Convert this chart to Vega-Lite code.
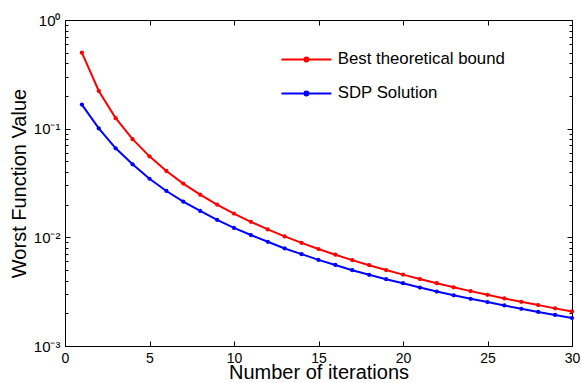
{
  "$schema": "https://vega.github.io/schema/vega-lite/v6.json",
  "width": 507,
  "height": 326,
  "autosize": {"type": "none"},
  "padding": {"left": 65, "top": 20, "right": 9, "bottom": 37},
  "background": "white",
  "config": {
    "font": "Liberation Sans",
    "view": {"stroke": "black", "strokeWidth": 1},
    "axis": {"domainColor": "black", "tickColor": "black", "labelColor": "black", "titleColor": "black", "grid": false, "labelFont": "Liberation Sans", "titleFont": "Liberation Sans", "titleFontWeight": "normal", "labelFontSize": 14, "titleFontSize": 20}
  },
  "data": {"values": [
    {"n": 1, "value": 0.5, "series": "Best theoretical bound"},
    {"n": 2, "value": 0.2222, "series": "Best theoretical bound"},
    {"n": 3, "value": 0.125, "series": "Best theoretical bound"},
    {"n": 4, "value": 0.08, "series": "Best theoretical bound"},
    {"n": 5, "value": 0.0556, "series": "Best theoretical bound"},
    {"n": 6, "value": 0.0408, "series": "Best theoretical bound"},
    {"n": 7, "value": 0.03125, "series": "Best theoretical bound"},
    {"n": 8, "value": 0.0247, "series": "Best theoretical bound"},
    {"n": 9, "value": 0.02, "series": "Best theoretical bound"},
    {"n": 10, "value": 0.01653, "series": "Best theoretical bound"},
    {"n": 11, "value": 0.01389, "series": "Best theoretical bound"},
    {"n": 12, "value": 0.01183, "series": "Best theoretical bound"},
    {"n": 13, "value": 0.0102, "series": "Best theoretical bound"},
    {"n": 14, "value": 0.00889, "series": "Best theoretical bound"},
    {"n": 15, "value": 0.00781, "series": "Best theoretical bound"},
    {"n": 16, "value": 0.00692, "series": "Best theoretical bound"},
    {"n": 17, "value": 0.00617, "series": "Best theoretical bound"},
    {"n": 18, "value": 0.00554, "series": "Best theoretical bound"},
    {"n": 19, "value": 0.005, "series": "Best theoretical bound"},
    {"n": 20, "value": 0.00454, "series": "Best theoretical bound"},
    {"n": 21, "value": 0.00413, "series": "Best theoretical bound"},
    {"n": 22, "value": 0.00378, "series": "Best theoretical bound"},
    {"n": 23, "value": 0.00347, "series": "Best theoretical bound"},
    {"n": 24, "value": 0.0032, "series": "Best theoretical bound"},
    {"n": 25, "value": 0.00296, "series": "Best theoretical bound"},
    {"n": 26, "value": 0.00274, "series": "Best theoretical bound"},
    {"n": 27, "value": 0.00255, "series": "Best theoretical bound"},
    {"n": 28, "value": 0.00238, "series": "Best theoretical bound"},
    {"n": 29, "value": 0.00222, "series": "Best theoretical bound"},
    {"n": 30, "value": 0.00208, "series": "Best theoretical bound"},
    {"n": 1, "value": 0.1667, "series": "SDP Solution"},
    {"n": 2, "value": 0.1005, "series": "SDP Solution"},
    {"n": 3, "value": 0.066, "series": "SDP Solution"},
    {"n": 4, "value": 0.047, "series": "SDP Solution"},
    {"n": 5, "value": 0.0346, "series": "SDP Solution"},
    {"n": 6, "value": 0.0267, "series": "SDP Solution"},
    {"n": 7, "value": 0.0213, "series": "SDP Solution"},
    {"n": 8, "value": 0.0175, "series": "SDP Solution"},
    {"n": 9, "value": 0.0145, "series": "SDP Solution"},
    {"n": 10, "value": 0.0122, "series": "SDP Solution"},
    {"n": 11, "value": 0.0105, "series": "SDP Solution"},
    {"n": 12, "value": 0.0091, "series": "SDP Solution"},
    {"n": 13, "value": 0.0079, "series": "SDP Solution"},
    {"n": 14, "value": 0.007, "series": "SDP Solution"},
    {"n": 15, "value": 0.0062, "series": "SDP Solution"},
    {"n": 16, "value": 0.00557, "series": "SDP Solution"},
    {"n": 17, "value": 0.00498, "series": "SDP Solution"},
    {"n": 18, "value": 0.00452, "series": "SDP Solution"},
    {"n": 19, "value": 0.00412, "series": "SDP Solution"},
    {"n": 20, "value": 0.00378, "series": "SDP Solution"},
    {"n": 21, "value": 0.00345, "series": "SDP Solution"},
    {"n": 22, "value": 0.00317, "series": "SDP Solution"},
    {"n": 23, "value": 0.00293, "series": "SDP Solution"},
    {"n": 24, "value": 0.00272, "series": "SDP Solution"},
    {"n": 25, "value": 0.00254, "series": "SDP Solution"},
    {"n": 26, "value": 0.00236, "series": "SDP Solution"},
    {"n": 27, "value": 0.0022, "series": "SDP Solution"},
    {"n": 28, "value": 0.00206, "series": "SDP Solution"},
    {"n": 29, "value": 0.00193, "series": "SDP Solution"},
    {"n": 30, "value": 0.00181, "series": "SDP Solution"}
  ]},
  "resolve": {"axis": {"x": "independent", "y": "independent"}},
  "layer": [
    {
      "mark": {"type": "line", "strokeWidth": 2},
      "encoding": {
        "x": {"field": "n", "type": "quantitative", "scale": {"domain": [0, 30], "nice": false},
          "axis": {"orient": "bottom", "values": [0, 5, 10, 15, 20, 25, 30], "tickSize": -5, "labelPadding": 10, "labelFontSize": 14, "title": "Number of iterations", "titleX": 253.5, "titleY": 32, "titleBaseline": "alphabetic", "titleAnchor": null, "labelFlush": false}},
        "y": {"field": "value", "type": "quantitative", "scale": {"type": "log", "domain": [0.001, 1], "nice": false},
          "axis": {"orient": "left",
            "values": [0.001, 0.002, 0.003, 0.004, 0.005, 0.006, 0.007, 0.008, 0.009, 0.01, 0.02, 0.03, 0.04, 0.05, 0.06, 0.07, 0.08, 0.09, 0.1, 0.2, 0.3, 0.4, 0.5, 0.6, 0.7, 0.8, 0.9, 1],
            "labelExpr": "datum.value == 1 ? '10⁰' : datum.value == 0.1 ? '10⁻¹' : datum.value == 0.01 ? '10⁻²' : datum.value == 0.001 ? '10⁻³' : ''",
            "tickSize": {"condition": {"test": "datum.value == 1 || datum.value == 0.1 || datum.value == 0.01 || datum.value == 0.001", "value": -5}, "value": -3},
            "labelPadding": 10, "labelFlush": false, "labelOverlap": false, "labelFontSize": 15,
            "title": "Worst Function Value", "titleAngle": -90, "titleX": -40, "titleY": 163, "titleBaseline": "alphabetic", "titleAlign": "center"}},
        "color": {"field": "series", "type": "nominal",
          "scale": {"domain": ["Best theoretical bound", "SDP Solution"], "range": ["#ff0000", "#0000ff"]},
          "legend": {"orient": "none", "legendX": 233, "legendY": 31, "title": null, "padding": 0,
            "symbolType": "M-5,0L5,0M-0.4,0A0.4,0.4,0,1,1,0.4,0A0.4,0.4,0,1,1,-0.4,0Z",
            "symbolSize": 100, "symbolStrokeWidth": 2, "labelOffset": 23, "labelFontSize": 16.8, "labelLimit": 400, "labelFont": "Liberation Sans", "labelColor": "black", "rowPadding": 16,
            "encode": {"symbols": {"update": {"fill": {"scale": "color", "field": "value"}, "stroke": {"scale": "color", "field": "value"}}}}}}
      }
    },
    {
      "mark": {"type": "point", "filled": true, "size": 18, "opacity": 1},
      "encoding": {
        "x": {"field": "n", "type": "quantitative",
          "axis": {"orient": "top", "values": [0, 5, 10, 15, 20, 25, 30], "tickSize": -5, "labels": false, "title": null}},
        "y": {"field": "value", "type": "quantitative",
          "axis": {"orient": "right",
            "values": [0.001, 0.002, 0.003, 0.004, 0.005, 0.006, 0.007, 0.008, 0.009, 0.01, 0.02, 0.03, 0.04, 0.05, 0.06, 0.07, 0.08, 0.09, 0.1, 0.2, 0.3, 0.4, 0.5, 0.6, 0.7, 0.8, 0.9, 1],
            "tickSize": {"condition": {"test": "datum.value == 1 || datum.value == 0.1 || datum.value == 0.01 || datum.value == 0.001", "value": -5}, "value": -3},
            "labels": false, "title": null}},
        "color": {"field": "series", "type": "nominal", "legend": null}
      }
    }
  ]
}
